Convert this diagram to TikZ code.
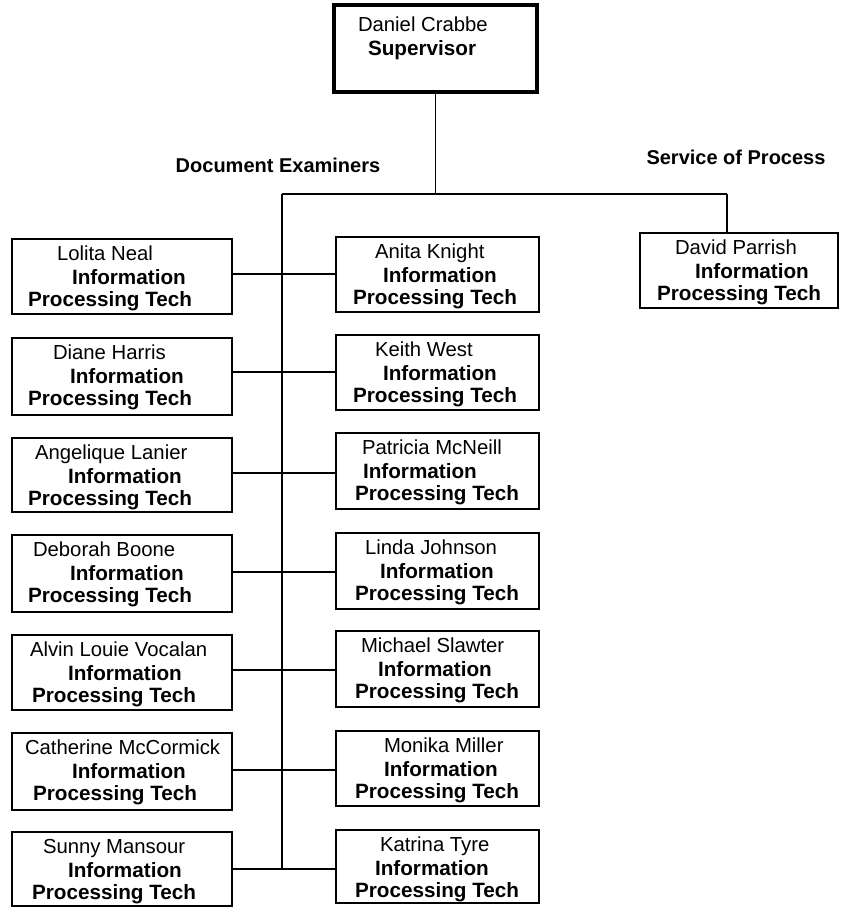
\documentclass[tikz,border=0pt]{standalone}
\usepackage{fontspec}
\setmainfont{Liberation Sans}
\tikzset{
  orgbox/.style={draw=black, line width=1.8pt, rectangle, inner sep=0pt, outer sep=0pt, anchor=north west},
  txt/.style={inner sep=0pt, outer sep=0pt, anchor=base west, font=\fontsize{20.3}{23}\selectfont},
  btxt/.style={txt, font=\fontsize{20.7}{23}\selectfont\bfseries},
  lbl/.style={inner sep=0pt, font=\fontsize{20}{23}\selectfont\bfseries},
  conn/.style={line width=1.8pt, black}
}
% id, x, y(top), w, h, name, dxname, dxinfo, dxproc
\newcommand{\orgunit}[9]{%
  \node[orgbox, minimum width=#4pt, minimum height=#5pt] (#1) at (#2,#3) {};
  \node[txt] (#1n) at ([xshift=#7pt, yshift=-21pt]#1.north west) {#6};
  \node[btxt] (#1i) at ([xshift=#8pt, yshift=-45pt]#1.north west) {Information};
  \node[btxt] (#1p) at ([xshift=#9pt, yshift=-67pt]#1.north west) {Processing Tech};
}
\begin{document}
\begin{tikzpicture}[x=1pt, y=-1pt]
\useasboundingbox (0,0) rectangle (845,907);

% supervisor
\node[orgbox, line width=3.2pt, minimum width=203pt, minimum height=87pt] (sup) at (334,5) {};
\node[txt] (supn) at ([xshift=24pt, yshift=-27pt]sup.north west) {Daniel Crabbe};
\node[btxt] (supt) at ([xshift=34pt, yshift=-51pt]sup.north west) {Supervisor};

% labels
\node[lbl] (lde) at (278,165) {Document Examiners};
\node[lbl] (lsp) at (736,157) {Service of Process};

% left column
\orgunit{L1}{12}{239}{220}{75}{Lolita Neal}{45}{60}{16}
\orgunit{L2}{12}{338}{220}{77}{Diane Harris}{41}{58}{16}
\orgunit{L3}{12}{438}{220}{74}{Angelique Lanier}{23}{56}{16}
\orgunit{L4}{12}{535}{220}{77}{Deborah Boone}{21}{58}{16}
\orgunit{L5}{12}{635}{220}{75}{Alvin Louie Vocalan}{18}{56}{20}
\orgunit{L6}{12}{733}{220}{77}{Catherine McCormick}{13}{60}{21}
\orgunit{L7}{12}{832}{220}{74}{Sunny Mansour}{31}{56}{20}

% right column
\orgunit{R1}{336}{237}{203}{75}{Anita Knight}{39}{47}{17}
\orgunit{R2}{336}{335}{203}{75}{Keith West}{39}{47}{17}
\orgunit{R3}{336}{433}{203}{76}{Patricia McNeill}{26}{27}{19}
\orgunit{R4}{336}{533}{203}{76}{Linda Johnson}{29}{44}{19}
\orgunit{R5}{336}{631}{203}{76}{Michael Slawter}{25}{42}{19}
\orgunit{R6}{336}{731}{203}{75}{Monika Miller}{48}{48}{19}
\orgunit{R7}{336}{830}{203}{73}{Katrina Tyre}{44}{39}{19}

% service of process
\orgunit{DP}{640}{233}{198}{75}{David Parrish}{35}{55}{17}

% junction coordinates
\coordinate (jt) at (282,194);
\coordinate (jr) at (727,194);
\coordinate (c1) at (282,274);
\coordinate (c2) at (282,372);
\coordinate (c3) at (282,473);
\coordinate (c4) at (282,572);
\coordinate (c5) at (282,670);
\coordinate (c6) at (282,770);
\coordinate (c7) at (282,869);

% connectors
\draw[conn] (sup.south) -- (sup.south |- jt);
\draw[conn] (jt) -- (jr);
\draw[conn] (jr) -- (jr |- DP.north);
\draw[conn] (jt) -- (c7);
\foreach \k in {1,...,7}{
  \draw[conn] (L\k.east |- c\k) -- (R\k.west |- c\k);
}
\end{tikzpicture}
\end{document}
